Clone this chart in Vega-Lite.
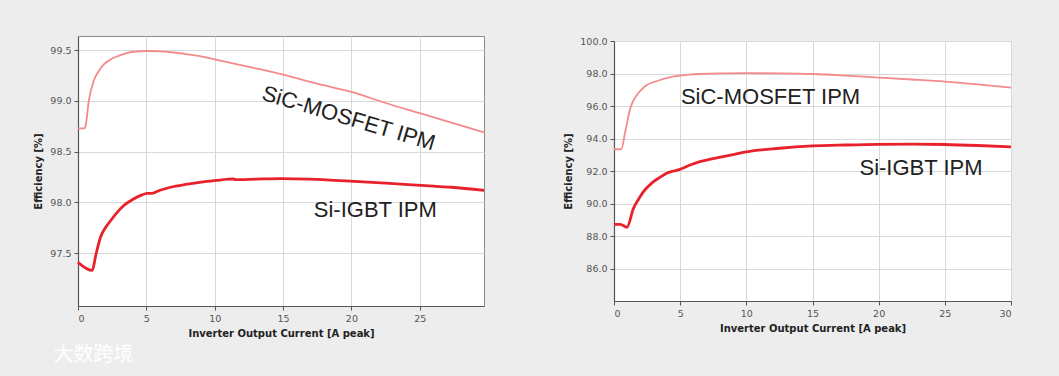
{
  "$schema": "https://vega.github.io/schema/vega-lite/v6.json",
  "background": "#ededed",
  "padding": {"left": 33, "top": 35, "right": 43, "bottom": 36},
  "autosize": {"type": "pad"},
  "bounds": "flush",
  "center": true,
  "spacing": 130,
  "config": {
    "font": "DejaVu Sans",
    "view": {"stroke": "#8c8c8c", "strokeWidth": 1, "fill": "white"},
    "axis": {
      "grid": true,
      "gridColor": "#d9d9d9",
      "gridWidth": 1,
      "domainColor": "#555555",
      "domainWidth": 1.2,
      "tickColor": "#555555",
      "tickSize": 4,
      "labelColor": "#555555",
      "labelFont": "DejaVu Sans",
      "labelFontSize": 9.5,
      "labelPadding": 3,
      "titleFont": "DejaVu Sans",
      "titleFontWeight": "bold",
      "titleFontSize": 10,
      "titleColor": "#222222"
    }
  },
  "datasets": {
    "left": [
      {"x": 0, "eff": 98.73, "series": "SiC-MOSFET IPM"},
      {"x": 0.5, "eff": 98.73, "series": "SiC-MOSFET IPM"},
      {"x": 0.55, "eff": 98.75, "series": "SiC-MOSFET IPM"},
      {"x": 0.79, "eff": 99.0, "series": "SiC-MOSFET IPM"},
      {"x": 1.15, "eff": 99.2, "series": "SiC-MOSFET IPM"},
      {"x": 1.5, "eff": 99.29, "series": "SiC-MOSFET IPM"},
      {"x": 1.89, "eff": 99.36, "series": "SiC-MOSFET IPM"},
      {"x": 2.4, "eff": 99.41, "series": "SiC-MOSFET IPM"},
      {"x": 2.87, "eff": 99.44, "series": "SiC-MOSFET IPM"},
      {"x": 3.5, "eff": 99.47, "series": "SiC-MOSFET IPM"},
      {"x": 4.08, "eff": 99.485, "series": "SiC-MOSFET IPM"},
      {"x": 5.06, "eff": 99.492, "series": "SiC-MOSFET IPM"},
      {"x": 6.0, "eff": 99.488, "series": "SiC-MOSFET IPM"},
      {"x": 6.76, "eff": 99.48, "series": "SiC-MOSFET IPM"},
      {"x": 8.0, "eff": 99.46, "series": "SiC-MOSFET IPM"},
      {"x": 9.0, "eff": 99.44, "series": "SiC-MOSFET IPM"},
      {"x": 10.0, "eff": 99.41, "series": "SiC-MOSFET IPM"},
      {"x": 12.0, "eff": 99.35, "series": "SiC-MOSFET IPM"},
      {"x": 15.0, "eff": 99.26, "series": "SiC-MOSFET IPM"},
      {"x": 17.5, "eff": 99.17, "series": "SiC-MOSFET IPM"},
      {"x": 20.0, "eff": 99.09, "series": "SiC-MOSFET IPM"},
      {"x": 22.5, "eff": 98.98, "series": "SiC-MOSFET IPM"},
      {"x": 25.0, "eff": 98.88, "series": "SiC-MOSFET IPM"},
      {"x": 27.5, "eff": 98.78, "series": "SiC-MOSFET IPM"},
      {"x": 29.7, "eff": 98.69, "series": "SiC-MOSFET IPM"},
      {"x": 0, "eff": 97.41, "series": "Si-IGBT IPM"},
      {"x": 1.04, "eff": 97.33, "series": "Si-IGBT IPM"},
      {"x": 1.3, "eff": 97.48, "series": "Si-IGBT IPM"},
      {"x": 1.64, "eff": 97.655, "series": "Si-IGBT IPM"},
      {"x": 2.0, "eff": 97.75, "series": "Si-IGBT IPM"},
      {"x": 2.38, "eff": 97.82, "series": "Si-IGBT IPM"},
      {"x": 2.85, "eff": 97.9, "series": "Si-IGBT IPM"},
      {"x": 3.35, "eff": 97.97, "series": "Si-IGBT IPM"},
      {"x": 4.0, "eff": 98.03, "series": "Si-IGBT IPM"},
      {"x": 4.6, "eff": 98.07, "series": "Si-IGBT IPM"},
      {"x": 5.06, "eff": 98.09, "series": "Si-IGBT IPM"},
      {"x": 5.4, "eff": 98.09, "series": "Si-IGBT IPM"},
      {"x": 6.0, "eff": 98.12, "series": "Si-IGBT IPM"},
      {"x": 6.76, "eff": 98.15, "series": "Si-IGBT IPM"},
      {"x": 8.0, "eff": 98.18, "series": "Si-IGBT IPM"},
      {"x": 9.0, "eff": 98.2, "series": "Si-IGBT IPM"},
      {"x": 10.0, "eff": 98.215, "series": "Si-IGBT IPM"},
      {"x": 11.4, "eff": 98.232, "series": "Si-IGBT IPM"},
      {"x": 11.5, "eff": 98.225, "series": "Si-IGBT IPM"},
      {"x": 13.0, "eff": 98.23, "series": "Si-IGBT IPM"},
      {"x": 14.8, "eff": 98.235, "series": "Si-IGBT IPM"},
      {"x": 17.0, "eff": 98.23, "series": "Si-IGBT IPM"},
      {"x": 19.9, "eff": 98.21, "series": "Si-IGBT IPM"},
      {"x": 22.5, "eff": 98.19, "series": "Si-IGBT IPM"},
      {"x": 26.0, "eff": 98.16, "series": "Si-IGBT IPM"},
      {"x": 27.3, "eff": 98.15, "series": "Si-IGBT IPM"},
      {"x": 29.7, "eff": 98.12, "series": "Si-IGBT IPM"}
    ],
    "right": [
      {"x": 0, "eff": 93.34, "series": "SiC-MOSFET IPM"},
      {"x": 0.55, "eff": 93.34, "series": "SiC-MOSFET IPM"},
      {"x": 0.85, "eff": 94.42, "series": "SiC-MOSFET IPM"},
      {"x": 1.23, "eff": 95.86, "series": "SiC-MOSFET IPM"},
      {"x": 1.73, "eff": 96.68, "series": "SiC-MOSFET IPM"},
      {"x": 2.1, "eff": 97.02, "series": "SiC-MOSFET IPM"},
      {"x": 2.48, "eff": 97.29, "series": "SiC-MOSFET IPM"},
      {"x": 3.0, "eff": 97.47, "series": "SiC-MOSFET IPM"},
      {"x": 3.48, "eff": 97.6, "series": "SiC-MOSFET IPM"},
      {"x": 4.2, "eff": 97.76, "series": "SiC-MOSFET IPM"},
      {"x": 4.98, "eff": 97.87, "series": "SiC-MOSFET IPM"},
      {"x": 5.7, "eff": 97.93, "series": "SiC-MOSFET IPM"},
      {"x": 6.5, "eff": 97.97, "series": "SiC-MOSFET IPM"},
      {"x": 8.0, "eff": 98.01, "series": "SiC-MOSFET IPM"},
      {"x": 10.0, "eff": 98.02, "series": "SiC-MOSFET IPM"},
      {"x": 12.5, "eff": 98.01, "series": "SiC-MOSFET IPM"},
      {"x": 15.0, "eff": 97.97, "series": "SiC-MOSFET IPM"},
      {"x": 17.5, "eff": 97.87, "series": "SiC-MOSFET IPM"},
      {"x": 20.0, "eff": 97.75, "series": "SiC-MOSFET IPM"},
      {"x": 22.5, "eff": 97.63, "series": "SiC-MOSFET IPM"},
      {"x": 25.0, "eff": 97.5, "series": "SiC-MOSFET IPM"},
      {"x": 27.5, "eff": 97.33, "series": "SiC-MOSFET IPM"},
      {"x": 30.0, "eff": 97.13, "series": "SiC-MOSFET IPM"},
      {"x": 0, "eff": 88.72, "series": "Si-IGBT IPM"},
      {"x": 0.47, "eff": 88.72, "series": "Si-IGBT IPM"},
      {"x": 0.98, "eff": 88.54, "series": "Si-IGBT IPM"},
      {"x": 1.47, "eff": 89.7, "series": "Si-IGBT IPM"},
      {"x": 1.85, "eff": 90.25, "series": "Si-IGBT IPM"},
      {"x": 2.23, "eff": 90.73, "series": "Si-IGBT IPM"},
      {"x": 2.6, "eff": 91.06, "series": "Si-IGBT IPM"},
      {"x": 2.98, "eff": 91.35, "series": "Si-IGBT IPM"},
      {"x": 3.5, "eff": 91.62, "series": "Si-IGBT IPM"},
      {"x": 3.98, "eff": 91.86, "series": "Si-IGBT IPM"},
      {"x": 4.5, "eff": 92.0, "series": "Si-IGBT IPM"},
      {"x": 4.98, "eff": 92.1, "series": "Si-IGBT IPM"},
      {"x": 5.7, "eff": 92.35, "series": "Si-IGBT IPM"},
      {"x": 6.49, "eff": 92.58, "series": "Si-IGBT IPM"},
      {"x": 7.3, "eff": 92.73, "series": "Si-IGBT IPM"},
      {"x": 8.24, "eff": 92.89, "series": "Si-IGBT IPM"},
      {"x": 9.1, "eff": 93.03, "series": "Si-IGBT IPM"},
      {"x": 10.0, "eff": 93.18, "series": "Si-IGBT IPM"},
      {"x": 12.5, "eff": 93.4, "series": "Si-IGBT IPM"},
      {"x": 15.0, "eff": 93.54, "series": "Si-IGBT IPM"},
      {"x": 17.5, "eff": 93.6, "series": "Si-IGBT IPM"},
      {"x": 20.0, "eff": 93.64, "series": "Si-IGBT IPM"},
      {"x": 22.5, "eff": 93.65, "series": "Si-IGBT IPM"},
      {"x": 25.0, "eff": 93.63, "series": "Si-IGBT IPM"},
      {"x": 27.5, "eff": 93.57, "series": "Si-IGBT IPM"},
      {"x": 30.0, "eff": 93.49, "series": "Si-IGBT IPM"}
    ],
    "labels": [
      {"panel": "left", "label": "SiC-MOSFET IPM", "x": 19.8, "eff": 98.83},
      {"panel": "left", "label": "Si-IGBT IPM", "x": 21.75, "eff": 97.93},
      {"panel": "right", "label": "SiC-MOSFET IPM", "x": 11.83, "eff": 96.55},
      {"panel": "right", "label": "Si-IGBT IPM", "x": 23.2, "eff": 92.17},
      {"panel": "mark", "label": "大数跨境", "x": 1.13, "eff": 96.5}
    ]
  },
  "hconcat": [
    {
      "width": 406,
      "height": 270,
      "encoding": {
        "x": {"field": "x", "type": "quantitative", "scale": {"domain": [0, 29.7], "nice": false},
              "axis": {"values": [0, 5, 10, 15, 20, 25], "title": "Inverter Output Current [A peak]", "titlePadding": 6}},
        "y": {"field": "eff", "type": "quantitative", "scale": {"domain": [96.98, 99.64], "nice": false, "zero": false},
              "axis": {"values": [97.5, 98.0, 98.5, 99.0, 99.5], "format": ".1f", "title": "Efficiency [%]", "titlePadding": 6}}
      },
      "layer": [
        {
          "data": {"name": "left"},
          "mark": {"type": "line", "interpolate": "monotone"},
          "encoding": {
            "color": {"field": "series", "type": "nominal", "scale": {"domain": ["SiC-MOSFET IPM", "Si-IGBT IPM"], "range": ["#f38b8b", "#e8212b"]}, "legend": null},
            "strokeWidth": {"field": "series", "type": "nominal", "scale": {"domain": ["SiC-MOSFET IPM", "Si-IGBT IPM"], "range": [1.8, 2.8]}, "legend": null}
          }
        },
        {
          "data": {"name": "labels"},
          "transform": [{"filter": "datum.panel == 'left' && datum.label == 'SiC-MOSFET IPM'"}],
          "mark": {"type": "text", "font": "Liberation Sans", "fontSize": 22, "color": "#222222", "angle": 16.5, "align": "center", "baseline": "middle"},
          "encoding": {"text": {"field": "label"}}
        },
        {
          "data": {"name": "labels"},
          "transform": [{"filter": "datum.panel == 'left' && datum.label == 'Si-IGBT IPM'"}],
          "mark": {"type": "text", "font": "Liberation Sans", "fontSize": 22, "color": "#222222", "align": "center", "baseline": "middle"},
          "encoding": {"text": {"field": "label"}}
        },
        {
          "data": {"name": "labels"},
          "transform": [{"filter": "datum.panel == 'mark'"}],
          "mark": {"type": "text", "font": "Noto Sans CJK SC", "fontSize": 20, "color": "#ffffff", "align": "center", "baseline": "middle"},
          "encoding": {"text": {"field": "label"}}
        }
      ]
    },
    {
      "width": 397,
      "height": 260,
      "encoding": {
        "x": {"field": "x", "type": "quantitative", "scale": {"domain": [0, 30], "nice": false},
              "axis": {"values": [0, 5, 10, 15, 20, 25, 30], "title": "Inverter Output Current [A peak]", "titlePadding": 6}},
        "y": {"field": "eff", "type": "quantitative", "scale": {"domain": [84, 100], "nice": false, "zero": false},
              "axis": {"values": [86, 88, 90, 92, 94, 96, 98, 100], "format": ".1f", "title": "Efficiency [%]", "titlePadding": 6}}
      },
      "layer": [
        {
          "data": {"name": "right"},
          "mark": {"type": "line", "interpolate": "monotone"},
          "encoding": {
            "color": {"field": "series", "type": "nominal", "scale": {"domain": ["SiC-MOSFET IPM", "Si-IGBT IPM"], "range": ["#f38b8b", "#e8212b"]}, "legend": null},
            "strokeWidth": {"field": "series", "type": "nominal", "scale": {"domain": ["SiC-MOSFET IPM", "Si-IGBT IPM"], "range": [1.8, 2.8]}, "legend": null}
          }
        },
        {
          "data": {"name": "labels"},
          "transform": [{"filter": "datum.panel == 'right'"}],
          "mark": {"type": "text", "font": "Liberation Sans", "fontSize": 22, "color": "#222222", "align": "center", "baseline": "middle"},
          "encoding": {"text": {"field": "label"}}
        }
      ]
    }
  ]
}
